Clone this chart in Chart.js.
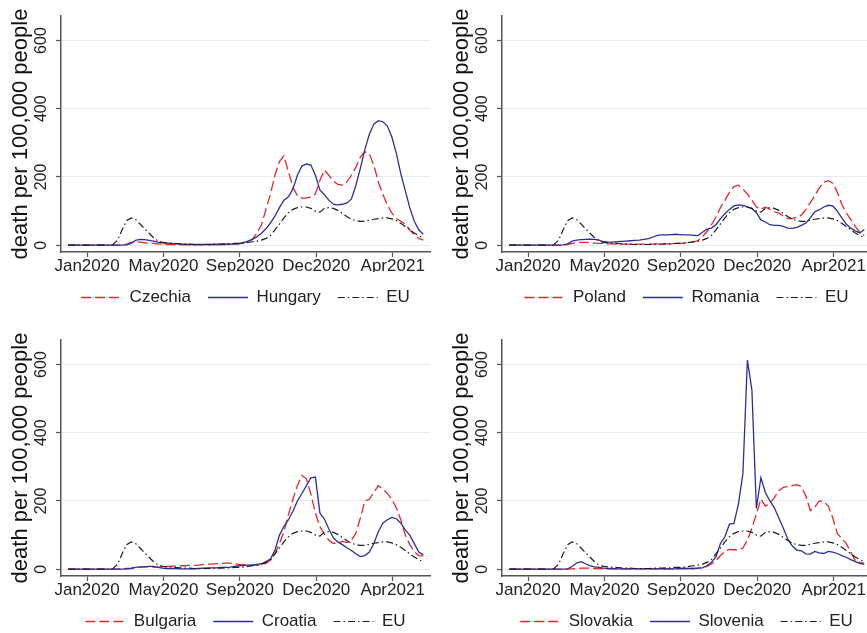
<!DOCTYPE html>
<html>
<head>
<meta charset="utf-8">
<script src="https://cdn.jsdelivr.net/npm/chart.js@4.4.1/dist/chart.umd.min.js"></script>
<style>
html, body { margin: 0; padding: 0; background: #ffffff; width: 867px; height: 633px; overflow: hidden; }
#wrap { position: relative; width: 867px; height: 633px; overflow: hidden; }
.panel { position: absolute; width: 442px; height: 324px; }
.panel canvas { display: block; }
</style>
</head>
<body>
<div id="wrap">
  <div class="panel" style="left:0px;top:0px"><canvas id="c1" width="442" height="324" style="width:442px;height:324px"></canvas></div>
  <div class="panel" style="left:441px;top:0px"><canvas id="c2" width="442" height="324" style="width:442px;height:324px"></canvas></div>
  <div class="panel" style="left:0px;top:324px"><canvas id="c3" width="442" height="324" style="width:442px;height:324px"></canvas></div>
  <div class="panel" style="left:441px;top:324px"><canvas id="c4" width="442" height="324" style="width:442px;height:324px"></canvas></div>
</div>
<script>
// ---- data (weekly values, death per 100,000 people) ----
const xTickPositions = [4.2, 21.2, 38.2, 55.2, 72.2];
const xTickLabels = ["Jan2020", "May2020", "Sep2020", "Dec2020", "Apr2021"];
const yTickValues = [0, 200, 400, 600];

const euValues = [
  0,0,0,0,0,0,0,0,0,0,
  2,15,45,72,80,75,62,48,35,22,
  12,8,7,6,5,4,3,3,2,2,
  2,2,3,3,3,4,4,5,5,6,
  8,10,12,15,20,28,45,62,80,95,
  105,110,112,112,108,100,97,108,110,108,
  102,93,84,76,72,70,70,73,76,78,
  80,80,77,72,64,55,45,36,28,22
];
const czechia = [
  0,0,0,0,0,0,0,0,0,0,
  0,0,0,3,8,10,9,7,6,5,
  4,3,2,2,2,1,1,1,1,1,
  1,1,2,2,2,2,3,4,5,8,
  10,18,35,60,105,150,205,245,262,215,
  170,145,138,138,142,150,190,220,205,188,
  178,176,185,205,228,258,274,268,235,185,
  150,118,95,78,70,62,45,30,20,15
];
const hungary = [
  0,0,0,0,0,0,0,0,0,0,
  0,0,0,1,5,14,17,16,14,12,
  9,7,6,5,4,3,3,2,2,2,
  2,2,2,2,2,3,3,3,4,7,
  12,17,25,35,48,65,85,110,132,142,
  165,205,232,238,235,205,162,148,132,120,
  118,120,124,135,175,225,280,325,355,365,
  362,350,318,270,210,160,110,70,45,32
];
const poland = [
  0,0,0,0,0,0,0,0,0,0,
  0,0,0,2,5,7,8,8,7,6,
  5,5,4,4,3,3,3,3,3,3,
  3,3,3,4,4,4,4,5,5,6,
  7,10,13,25,40,60,82,110,132,155,
  172,176,165,150,132,112,105,112,105,98,
  94,85,78,78,82,88,105,125,145,168,
  185,189,182,155,120,95,75,55,38,28
];
const romania = [
  0,0,0,0,0,0,0,0,0,0,
  0,0,1,4,12,15,16,17,18,17,
  15,10,9,9,10,11,12,13,14,15,
  17,19,24,29,30,30,31,32,31,30,
  30,29,28,38,47,50,60,78,92,105,
  115,118,117,112,107,96,74,68,60,58,
  58,55,50,49,52,58,65,80,98,104,
  112,117,115,100,80,62,50,42,36,46
];
const bulgaria = [
  0,0,0,0,0,0,0,0,0,0,
  0,0,1,2,3,5,6,7,7,6,
  6,7,8,9,9,10,10,11,11,12,
  14,15,15,16,17,18,18,16,14,13,
  12,12,12,14,17,26,45,75,110,160,
  205,245,275,265,220,165,125,103,85,76,
  75,82,78,85,105,150,200,205,225,245,
  235,222,205,180,145,100,72,52,40,38
];
const croatia = [
  0,0,0,0,0,0,0,0,0,0,
  0,0,0,1,2,5,7,7,8,8,
  5,3,2,2,2,1,1,1,1,2,
  3,4,4,4,5,5,6,8,10,11,
  12,12,14,16,22,30,55,100,125,145,
  170,200,222,245,268,270,165,147,118,92,
  80,72,63,55,45,37,40,50,75,110,
  135,145,152,148,135,115,100,75,50,42
];
const slovakia = [
  0,0,0,0,0,0,0,0,0,0,
  0,0,0,0,1,2,3,3,3,2,
  2,1,1,1,1,1,1,1,1,1,
  1,1,1,1,1,1,1,1,2,2,
  2,2,3,5,8,15,25,40,52,58,
  57,57,62,85,120,162,206,185,192,210,
  230,240,242,245,248,242,215,172,182,200,
  198,185,150,105,90,75,50,25,20,18
];
const slovenia = [
  0,0,0,0,0,0,0,0,0,0,
  0,0,0,1,8,18,22,16,10,7,
  5,3,2,2,1,1,1,1,1,1,
  1,1,1,1,1,1,1,1,2,2,
  2,2,3,4,10,20,36,75,95,132,
  134,191,280,613,525,178,268,225,200,180,
  150,120,88,68,56,54,45,44,52,48,
  46,52,50,46,40,35,28,22,17,14
];

const panels = [
  { id: "c1", names: ["Czechia", "Hungary"], a: czechia, b: hungary },
  { id: "c2", names: ["Poland", "Romania"], a: poland, b: romania },
  { id: "c3", names: ["Bulgaria", "Croatia"], a: bulgaria, b: croatia },
  { id: "c4", names: ["Slovakia", "Slovenia"], a: slovakia, b: slovenia }
];

// ---- styling ----
const FONT = "'Liberation Sans', Arial, Helvetica, sans-serif";
const RED = "#e8262c";
const BLUE = "#2e2e9a";
const BLACK = "#1e1e1e";
const AXIS = "#555555";
const GRID = "#e3eaf1";
const TEXT = "#222222";

function toPoints(arr) { return arr.map((v, i) => ({ x: i, y: v })); }

function legendLabels(chart) {
  const items = Chart.defaults.plugins.legend.labels.generateLabels(chart);
  items.forEach((it) => {
    const ds = chart.data.datasets[it.datasetIndex];
    it.lineDash = ds.borderDash;
    it.lineWidth = ds.borderWidth;
    it.strokeStyle = ds.borderColor;
    it.pointStyle = "line";
  });
  return items;
}

function makeChart(p) {
  const ctx = document.getElementById(p.id).getContext("2d");
  return new Chart(ctx, {
    type: "line",
    data: {
      datasets: [
        { label: p.names[0], data: toPoints(p.a), borderColor: RED, backgroundColor: RED, borderDash: [10, 4], borderWidth: 1.3, order: 2 },
        { label: p.names[1], data: toPoints(p.b), borderColor: BLUE, backgroundColor: BLUE, borderDash: [], borderWidth: 1.3, order: 1 },
        { label: "EU", data: toPoints(euValues), borderColor: BLACK, backgroundColor: BLACK, borderDash: [7, 3, 1.5, 3], borderWidth: 1.2, order: 0 }
      ]
    },
    options: {
      responsive: false,
      animation: false,
      devicePixelRatio: 1,
      layout: { padding: { left: 4, top: 16, right: 12, bottom: 8 } },
      elements: { point: { radius: 0 }, line: { tension: 0, fill: false } },
      plugins: {
        legend: {
          position: "bottom",
          fullSize: false,
          labels: {
            usePointStyle: true,
            pointStyle: "line",
            pointStyleWidth: 40,
            padding: 17,
            color: TEXT,
            font: { family: FONT, size: 17 },
            generateLabels: legendLabels,
            sort: (a, b) => a.datasetIndex - b.datasetIndex
          }
        },
        tooltip: { enabled: false }
      },
      scales: {
        x: {
          type: "linear",
          min: -1.6,
          max: 80.5,
          afterBuildTicks: (s) => { s.ticks = xTickPositions.map(v => ({ value: v })); },
          afterFit: (s) => { s.height = 20; },
          ticks: {
            autoSkip: false, minRotation: 0, maxRotation: 0, padding: -1,
            color: TEXT, font: { family: FONT, size: 17 },
            callback: (v, i) => xTickLabels[i]
          },
          grid: { drawOnChartArea: false, drawTicks: true, tickLength: 5, tickColor: AXIS, tickWidth: 1.2 },
          border: { display: true, color: AXIS, width: 1.5 }
        },
        y: {
          min: -20,
          max: 672,
          afterBuildTicks: (s) => { s.ticks = yTickValues.map(v => ({ value: v })); },
          afterFit: (s) => { s.width = 57; },
          ticks: {
            minRotation: 90, maxRotation: 90, crossAlign: "center", padding: 1,
            color: TEXT, font: { family: FONT, size: 16 }
          },
          grid: { color: GRID, lineWidth: 1, drawTicks: true, tickLength: 5, tickColor: AXIS, tickWidth: 1.2 },
          border: { display: true, color: AXIS, width: 1.5 },
          title: {
            display: true, text: "death per 100,000 people", color: "#111111",
            font: { family: FONT, size: 22 }, padding: { top: 4, bottom: 4 }
          }
        }
      }
    }
  });
}

panels.forEach(makeChart);
</script>
</body>
</html>
